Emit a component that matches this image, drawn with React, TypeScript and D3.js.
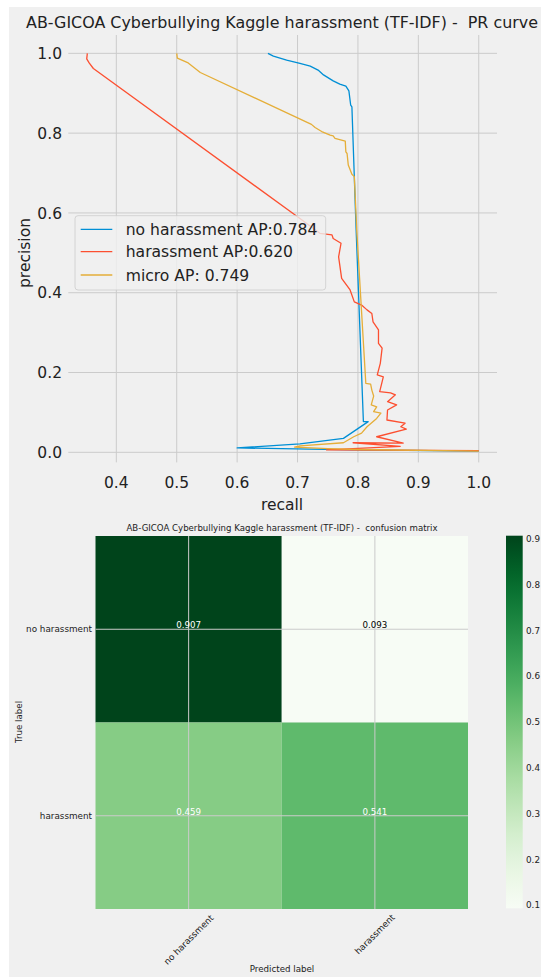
import React, { useEffect, useRef } from 'react';
import * as d3 from 'd3';

// PR curve points, [recall, precision]
const noHarassmentPR = [
  [0.651, 1.0], [0.66, 0.993], [0.682, 0.983], [0.704, 0.975], [0.721, 0.968],
  [0.734, 0.958], [0.743, 0.946], [0.759, 0.931], [0.77, 0.923], [0.78, 0.918],
  [0.785, 0.906], [0.788, 0.87], [0.79, 0.866], [0.797, 0.557], [0.809, 0.077],
  [0.817, 0.077], [0.776, 0.035], [0.704, 0.021], [0.6, 0.011], [0.72, 0.008],
  [0.8, 0.006], [1.0, 0.003],
];
const harassmentPR = [
  [0.352, 1.0], [0.351, 0.986], [0.355, 0.976], [0.362, 0.962], [0.704, 0.586],
  [0.737, 0.549], [0.757, 0.545], [0.759, 0.536], [0.772, 0.524], [0.768, 0.49],
  [0.773, 0.436], [0.787, 0.407], [0.794, 0.377], [0.806, 0.369], [0.815, 0.357],
  [0.823, 0.348], [0.825, 0.327], [0.834, 0.307], [0.834, 0.273], [0.84, 0.261],
  [0.837, 0.223], [0.832, 0.194], [0.842, 0.189], [0.836, 0.152], [0.854, 0.149],
  [0.862, 0.144], [0.849, 0.127], [0.864, 0.119], [0.849, 0.106], [0.848, 0.081],
  [0.878, 0.073], [0.871, 0.064], [0.88, 0.058], [0.831, 0.039], [0.875, 0.023],
  [0.792, 0.024], [0.87, 0.015], [0.748, 0.006], [1.0, 0.004],
];
const microPR = [
  [0.5, 1.0], [0.501, 0.988], [0.519, 0.976], [0.539, 0.952], [0.723, 0.822],
  [0.729, 0.814], [0.74, 0.804], [0.754, 0.795], [0.759, 0.793], [0.762, 0.787],
  [0.779, 0.78], [0.78, 0.753], [0.782, 0.749], [0.784, 0.72], [0.79, 0.697],
  [0.794, 0.691], [0.798, 0.557], [0.813, 0.173], [0.821, 0.171], [0.823, 0.156],
  [0.826, 0.141], [0.822, 0.119], [0.831, 0.114], [0.826, 0.102], [0.838, 0.098],
  [0.831, 0.085], [0.815, 0.064], [0.806, 0.048], [0.793, 0.039], [0.776, 0.024],
  [0.704, 0.016], [0.695, 0.013], [0.75, 0.009], [0.8, 0.007], [1.0, 0.003],
];
const seriesLabels = ['no harassment AP:0.784', 'harassment AP:0.620', 'micro AP: 0.749'];
const seriesColors = ['#008fd5', '#fc4f30', '#e5ae38'];
const recallTicks = [0.4, 0.5, 0.6, 0.7, 0.8, 0.9, 1.0];
const precisionTicks = [0.0, 0.2, 0.4, 0.6, 0.8, 1.0];

// confusion matrix (normalized)
const classNames = ['no harassment', 'harassment'];
const cmValues = [
  [0.907, 0.093],
  [0.459, 0.541],
];
const colorbarTicks = [0.1, 0.2, 0.3, 0.4, 0.5, 0.6, 0.7, 0.8, 0.9];

const FONT = 'DejaVu Sans, Verdana, sans-serif';
const BG = '#f0f0f0';
const GRID = '#cbcbcb';

const App = () => {
  const svgRef = useRef(null);

  useEffect(() => {
    const svg = d3.select(svgRef.current);
    svg.selectAll('*').remove();

    svg.append('rect')
      .attr('x', 9).attr('y', 7)
      .attr('width', 541 - 9).attr('height', 977 - 7)
      .attr('fill', BG);

    // ---------- PR curve ----------
    const x = d3.scaleLinear().domain([0.3205, 1.0302]).range([68.3, 497]);
    const y = d3.scaleLinear().domain([-0.0253, 1.046]).range([462.4, 35]);
    const top = svg.append('g').style('font-family', FONT);

    top.selectAll('.vgrid').data(recallTicks).enter().append('line')
      .attr('x1', d => x(d)).attr('x2', d => x(d))
      .attr('y1', y.range()[1]).attr('y2', y.range()[0])
      .attr('stroke', GRID).attr('stroke-width', 1);
    top.selectAll('.hgrid').data(precisionTicks).enter().append('line')
      .attr('y1', d => y(d)).attr('y2', d => y(d))
      .attr('x1', x.range()[0]).attr('x2', x.range()[1])
      .attr('stroke', GRID).attr('stroke-width', 1);

    top.selectAll('.xt').data(recallTicks).enter().append('text')
      .attr('x', d => x(d)).attr('y', 488)
      .attr('text-anchor', 'middle').attr('font-size', 15.5).attr('fill', '#222')
      .text(d => d.toFixed(1));
    top.selectAll('.yt').data(precisionTicks).enter().append('text')
      .attr('x', 62).attr('y', d => y(d) + 5.6)
      .attr('text-anchor', 'end').attr('font-size', 15.5).attr('fill', '#222')
      .text(d => d.toFixed(1));

    top.append('text')
      .attr('x', 282).attr('y', 27.5)
      .attr('text-anchor', 'middle').attr('font-size', 15.9).attr('fill', '#222')
      .style('white-space', 'pre')
      .text('AB-GICOA Cyberbullying Kaggle harassment (TF-IDF) -  PR curve');
    top.append('text')
      .attr('x', 282).attr('y', 510)
      .attr('text-anchor', 'middle').attr('font-size', 15.5).attr('fill', '#222')
      .text('recall');
    top.append('text')
      .attr('transform', 'translate(30,253) rotate(-90)')
      .attr('text-anchor', 'middle').attr('font-size', 15.5).attr('fill', '#222')
      .text('precision');

    const line = d3.line()
      .x(d => x(d[0]))
      .y(d => y(d[1]));
    [noHarassmentPR, harassmentPR, microPR].forEach((s, i) => {
      top.append('path')
        .datum(s)
        .attr('fill', 'none')
        .attr('stroke', seriesColors[i])
        .attr('stroke-width', 1.3)
        .attr('stroke-linejoin', 'round')
        .attr('d', line);
    });

    // legend
    const legend = top.append('g');
    legend.append('rect')
      .attr('x', 75).attr('y', 215.7).attr('width', 250.7).attr('height', 74.3)
      .attr('rx', 3)
      .attr('fill', BG).attr('fill-opacity', 0.8)
      .attr('stroke', '#cccccc').attr('stroke-width', 0.8);
    const rowY = [229.3, 251.7, 275];
    seriesLabels.forEach((lab, i) => {
      legend.append('line')
        .attr('x1', 80.7).attr('x2', 112.3)
        .attr('y1', rowY[i]).attr('y2', rowY[i])
        .attr('stroke', seriesColors[i]).attr('stroke-width', 1.3);
      legend.append('text')
        .attr('x', 125.7).attr('y', rowY[i] + 5.5)
        .attr('font-size', 15.6).attr('fill', '#222')
        .text(lab);
    });

    // ---------- confusion matrix ----------
    const bottom = svg.append('g').style('font-family', FONT);
    const cx = d3.scaleBand().domain(classNames).range([95.5, 468]);
    const cy = d3.scaleBand().domain(classNames).range([536, 909]);
    const vmin = d3.min(cmValues.flat());
    const vmax = d3.max(cmValues.flat());
    const color = d3.scaleSequential(d3.interpolateGreens).domain([vmin, vmax]);
    const thresh = vmax / 2;

    cmValues.forEach((row, i) => {
      row.forEach((v, j) => {
        bottom.append('rect')
          .attr('x', cx(classNames[j])).attr('y', cy(classNames[i]))
          .attr('width', cx.bandwidth()).attr('height', cy.bandwidth())
          .attr('fill', color(v));
      });
    });

    const centers = classNames.map(c => cx(c) + cx.bandwidth() / 2);
    const rowCenters = classNames.map(c => cy(c) + cy.bandwidth() / 2);
    centers.forEach(c => {
      bottom.append('line')
        .attr('x1', c).attr('x2', c).attr('y1', 536).attr('y2', 909)
        .attr('stroke', GRID).attr('stroke-width', 1);
    });
    rowCenters.forEach(c => {
      bottom.append('line')
        .attr('y1', c).attr('y2', c).attr('x1', 95.5).attr('x2', 468)
        .attr('stroke', GRID).attr('stroke-width', 1);
    });

    cmValues.forEach((row, i) => {
      row.forEach((v, j) => {
        bottom.append('text')
          .attr('x', centers[j]).attr('y', rowCenters[i] - 1)
          .attr('text-anchor', 'middle').attr('font-size', 8.7)
          .attr('fill', v > thresh ? '#ffffff' : '#000000')
          .text(v.toFixed(3));
      });
    });

    bottom.selectAll('.cyt').data(classNames).enter().append('text')
      .attr('x', 92).attr('y', (d, i) => rowCenters[i] + 3.2)
      .attr('text-anchor', 'end').attr('font-size', 8.8).attr('fill', '#222')
      .text(d => d);

    classNames.forEach((c, i) => {
      const w = c.length * 5.1;
      const off = (w * 0.707 + 6.4) / 2;
      bottom.append('text')
        .attr('transform', `translate(${centers[i]},${913 + off}) rotate(-45)`)
        .attr('text-anchor', 'middle').attr('dy', '0.35em')
        .attr('font-size', 8.8).attr('fill', '#222')
        .text(c);
    });

    bottom.append('text')
      .attr('x', 282).attr('y', 531)
      .attr('text-anchor', 'middle').attr('font-size', 8.6).attr('fill', '#222')
      .style('white-space', 'pre')
      .text('AB-GICOA Cyberbullying Kaggle harassment (TF-IDF) -  confusion matrix');
    bottom.append('text')
      .attr('x', 282).attr('y', 972)
      .attr('text-anchor', 'middle').attr('font-size', 8.7).attr('fill', '#222')
      .text('Predicted label');
    bottom.append('text')
      .attr('transform', 'translate(21.5,722) rotate(-90)')
      .attr('text-anchor', 'middle').attr('font-size', 8.7).attr('fill', '#222')
      .text('True label');

    // colorbar
    const cb = d3.scaleLinear().domain([vmin, vmax]).range([908.3, 535.7]);
    const defs = svg.append('defs');
    const grad = defs.append('linearGradient')
      .attr('id', 'greens').attr('x1', 0).attr('x2', 0).attr('y1', 1).attr('y2', 0);
    d3.range(0, 1.0001, 0.05).forEach(t => {
      grad.append('stop').attr('offset', t).attr('stop-color', d3.interpolateGreens(t));
    });
    bottom.append('rect')
      .attr('x', 506).attr('y', 535.7).attr('width', 16.7).attr('height', 372.6)
      .attr('fill', 'url(#greens)');
    bottom.selectAll('.cbt').data(colorbarTicks).enter().append('text')
      .attr('x', 526).attr('y', d => cb(d) + 3.2)
      .attr('font-size', 8.8).attr('fill', '#222')
      .text(d => d.toFixed(1));
  }, []);

  return (
    <svg
      ref={svgRef}
      width={541}
      height={977}
      style={{ position: 'absolute', left: 0, top: 0, display: 'block' }}
    />
  );
};

export default App;
